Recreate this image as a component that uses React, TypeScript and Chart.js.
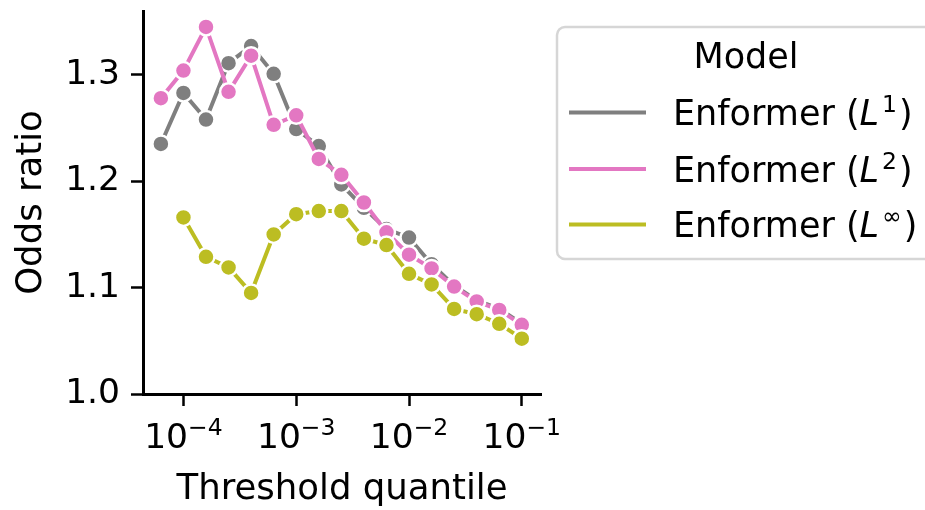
import React, { useEffect, useRef } from 'react';
import { Chart, registerables } from 'chart.js';

Chart.register(...registerables);

// ---- data ----
const quantiles = [
  6.31e-5, 1e-4, 1.585e-4, 2.512e-4, 3.981e-4, 6.31e-4, 1e-3, 1.585e-3, 2.512e-3,
  3.981e-3, 6.31e-3, 1e-2, 1.585e-2, 2.512e-2, 3.981e-2, 6.31e-2, 1e-1,
];
const enformerL1 = [
  1.235, 1.283, 1.258, 1.311, 1.327, 1.301, 1.249, 1.233, 1.197, 1.175, 1.155, 1.147,
  1.122, 1.102, 1.088, 1.08, 1.066,
];
const enformerL2 = [
  1.278, 1.304, 1.345, 1.284, 1.318, 1.253, 1.262, 1.221, 1.206, 1.18, 1.152, 1.131,
  1.118, 1.101, 1.087, 1.079, 1.065,
];
const enformerLinf = [
  null, 1.166, 1.129, 1.119, 1.095, 1.15, 1.169, 1.172, 1.172, 1.146, 1.14, 1.113,
  1.103, 1.08, 1.075, 1.066, 1.052,
];
const seriesNames = ['Enformer (L1)', 'Enformer (L2)', 'Enformer (L∞)'];
const seriesSup = ['1', '2', '∞'];
const seriesColors = ['#7f7f7f', '#e377c2', '#bcbd22'];
const xTickValues = [1e-4, 1e-3, 1e-2, 1e-1];
const xTickExponents = ['−4', '−3', '−2', '−1'];
const yTickValues = [1.0, 1.1, 1.2, 1.3];
const xTitle = 'Threshold quantile';
const yTitle = 'Odds ratio';
const legendTitle = 'Model';

const FONT = '"DejaVu Sans", sans-serif';
const FS = 35;
const TICKFS = 34.5;
const SUP = 23.5;

const textPlugin = {
  id: 'customText',
  afterDraw(chart: any) {
    const ctx: CanvasRenderingContext2D = chart.ctx;
    const area = chart.chartArea;
    const xs = chart.scales.x;
    ctx.save();
    ctx.fillStyle = '#000';
    ctx.textBaseline = 'alphabetic';
    ctx.textAlign = 'left';
    // x tick labels 10^k
    xTickValues.forEach((v, i) => {
      const px = xs.getPixelForValue(v);
      ctx.font = `${TICKFS}px ${FONT}`;
      const wb = ctx.measureText('10').width;
      ctx.font = `${SUP}px ${FONT}`;
      const ws = ctx.measureText(xTickExponents[i]).width;
      const start = px - (wb + ws) / 2;
      ctx.font = `${TICKFS}px ${FONT}`;
      ctx.fillText('10', start, area.bottom + 54);
      ctx.font = `${SUP}px ${FONT}`;
      ctx.fillText(xTickExponents[i], start + wb, area.bottom + 41);
    });
    // x title
    ctx.font = `35.5px ${FONT}`;
    ctx.textAlign = 'center';
    ctx.fillText(xTitle, (area.left + area.right) / 2, area.bottom + 105);
    // y title
    ctx.save();
    ctx.translate(41, (area.top + area.bottom) / 2);
    ctx.rotate(-Math.PI / 2);
    ctx.fillText(yTitle, 0, 0);
    ctx.restore();

    // legend box
    const bx = 557, by = 27, bw = 400, bh = 232, r = 8;
    ctx.beginPath();
    ctx.moveTo(bx + r, by);
    ctx.lineTo(bx + bw, by);
    ctx.lineTo(bx + bw, by + bh);
    ctx.lineTo(bx + r, by + bh);
    ctx.arcTo(bx, by + bh, bx, by + bh - r, r);
    ctx.lineTo(bx, by + r);
    ctx.arcTo(bx, by, bx + r, by, r);
    ctx.closePath();
    ctx.fillStyle = 'rgba(255,255,255,0.8)';
    ctx.fill();
    ctx.strokeStyle = '#d6d6d6';
    ctx.lineWidth = 2.5;
    ctx.stroke();

    ctx.fillStyle = '#000';
    ctx.textAlign = 'center';
    ctx.font = `${FS}px ${FONT}`;
    ctx.fillText(legendTitle, 746, 68);

    const baselines = [125, 181.5, 237];
    ctx.textAlign = 'left';
    seriesNames.forEach((name, i) => {
      const yb = baselines[i];
      ctx.strokeStyle = seriesColors[i];
      ctx.lineWidth = 4;
      ctx.beginPath();
      ctx.moveTo(569, yb - 12.5);
      ctx.lineTo(646, yb - 12.5);
      ctx.stroke();
      let x = 673;
      ctx.fillStyle = '#000';
      ctx.font = `${FS}px ${FONT}`;
      const pre = 'Enformer (';
      ctx.fillText(pre, x, yb);
      x += ctx.measureText(pre).width;
      ctx.font = `italic ${FS}px ${FONT}`;
      ctx.fillText('L', x, yb);
      x += ctx.measureText('L').width + 3;
      ctx.font = `${SUP}px ${FONT}`;
      ctx.fillText(seriesSup[i], x, yb - 13);
      x += ctx.measureText(seriesSup[i]).width + 2;
      ctx.font = `${FS}px ${FONT}`;
      ctx.fillText(')', x, yb);
    });
    ctx.restore();
  },
};

export default function App() {
  const ref = useRef<HTMLCanvasElement | null>(null);
  useEffect(() => {
    if (!ref.current) return;
    const all = [enformerL1, enformerL2, enformerLinf];
    const chart = new Chart(ref.current, {
      type: 'line',
      data: {
        datasets: all.map((vals, i) => ({
          label: seriesNames[i],
          data: quantiles.map((q, j) => ({ x: q, y: vals[j] })),
          borderColor: seriesColors[i],
          backgroundColor: seriesColors[i],
          pointBackgroundColor: seriesColors[i],
          pointBorderColor: '#ffffff',
          pointBorderWidth: 2.5,
          pointRadius: 8.5,
          borderWidth: 4,
          tension: 0,
          spanGaps: false,
          order: 3 - i,
        })),
      },
      options: {
        responsive: false,
        animation: false,
        devicePixelRatio: 1,
        layout: { padding: { top: 8, right: 384, bottom: 0, left: 0 } },
        plugins: { legend: { display: false }, tooltip: { enabled: false } },
        scales: {
          x: {
            type: 'logarithmic',
            min: 4.38e-5,
            max: 0.148,
            afterBuildTicks: (s: any) => {
              s.ticks = xTickValues.map((v) => ({ value: v, major: true }));
            },
            afterFit: (s: any) => {
              s.height = 116;
              s.paddingLeft = 0;
              s.paddingRight = 0;
            },
            ticks: { callback: () => '', autoSkip: false, font: { size: TICKFS, family: FONT } },
            grid: {
              display: true,
              drawOnChartArea: false,
              drawTicks: true,
              tickLength: 12,
              tickWidth: 2.5,
              tickColor: '#000',
            },
            border: { display: true, color: '#000', width: 3 },
          },
          y: {
            type: 'linear',
            min: 1.0,
            max: 1.36,
            afterBuildTicks: (s: any) => {
              s.ticks = yTickValues.map((v) => ({ value: v }));
            },
            afterFit: (s: any) => {
              s.width = 143;
              s.paddingTop = 0;
              s.paddingBottom = 0;
            },
            ticks: {
              callback: (v: any) => Number(v).toFixed(1),
              color: '#000',
              padding: 11,
              font: { size: TICKFS, family: FONT },
            },
            grid: {
              display: true,
              drawOnChartArea: false,
              drawTicks: true,
              tickLength: 12,
              tickWidth: 2.5,
              tickColor: '#000',
            },
            border: { display: true, color: '#000', width: 3 },
          },
        },
      },
      plugins: [textPlugin],
    } as any);
    return () => chart.destroy();
  }, []);
  return (
    <div style={{ position: 'absolute', left: 0, top: 0, width: 925, height: 510, background: '#fff' }}>
      <canvas ref={ref} width={925} height={510} style={{ width: 925, height: 510 }} />
    </div>
  );
}
